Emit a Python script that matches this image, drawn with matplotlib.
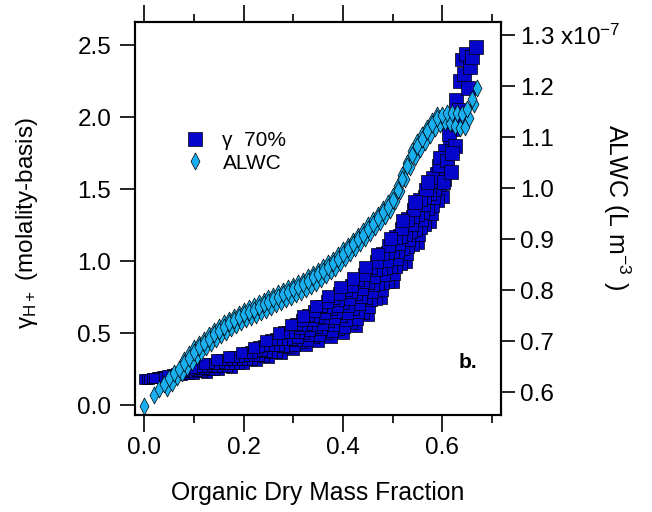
import numpy as np
import matplotlib
matplotlib.use("Agg")
import matplotlib.pyplot as plt
from matplotlib.lines import Line2D
from matplotlib.path import Path
from matplotlib.ticker import FixedLocator, FormatStrFormatter

plt.rcParams["font.family"] = ["Liberation Sans", "DejaVu Sans"]
plt.rcParams["mathtext.fontset"] = "custom"
plt.rcParams["mathtext.rm"] = "Liberation Sans"
plt.rcParams["mathtext.default"] = "regular"

# ── gamma_H+ (70% RH), left axis: tracks through the band + upper-right stack
gamma_t1_x = [0.000, 0.025, 0.050, 0.075, 0.100, 0.125, 0.150, 0.175, 0.200, 0.225, 0.250, 0.275, 0.300,
              0.325, 0.350, 0.375, 0.400, 0.425, 0.450, 0.475, 0.500, 0.525, 0.550, 0.575, 0.600]
gamma_t1_y = [0.18, 0.19, 0.20, 0.21, 0.22, 0.23, 0.245, 0.265, 0.29, 0.31, 0.33, 0.36, 0.39,
              0.42, 0.45, 0.475, 0.50, 0.55, 0.63, 0.75, 0.86, 1.00, 1.13, 1.28, 1.45]
gamma_t2_x = [0.005, 0.030, 0.055, 0.080, 0.105, 0.130, 0.155, 0.180, 0.205, 0.230, 0.255, 0.280, 0.305,
              0.330, 0.355, 0.380, 0.405, 0.430, 0.455, 0.480, 0.505, 0.530, 0.555, 0.580, 0.605]
gamma_t2_y = [0.18, 0.195, 0.21, 0.22, 0.24, 0.25, 0.27, 0.29, 0.32, 0.345, 0.37, 0.41, 0.45,
              0.49, 0.53, 0.56, 0.595, 0.65, 0.735, 0.85, 0.965, 1.10, 1.235, 1.39, 1.57]
gamma_t3_x = [0.010, 0.035, 0.060, 0.085, 0.110, 0.135, 0.160, 0.185, 0.210, 0.235, 0.260, 0.285, 0.310,
              0.335, 0.360, 0.385, 0.410, 0.435, 0.460, 0.485, 0.510, 0.535, 0.560, 0.585, 0.610]
gamma_t3_y = [0.185, 0.20, 0.215, 0.235, 0.255, 0.27, 0.29, 0.315, 0.345, 0.38, 0.415, 0.46, 0.505,
              0.555, 0.605, 0.65, 0.69, 0.755, 0.84, 0.955, 1.07, 1.205, 1.34, 1.50, 1.685]
gamma_t4_x = [0.015, 0.040, 0.065, 0.090, 0.115, 0.140, 0.165, 0.190, 0.215, 0.240, 0.265, 0.290, 0.315,
              0.340, 0.365, 0.390, 0.415, 0.440, 0.465, 0.490, 0.515, 0.540, 0.565, 0.590, 0.615]
gamma_t4_y = [0.19, 0.205, 0.22, 0.25, 0.27, 0.29, 0.32, 0.34, 0.37, 0.415, 0.46, 0.51, 0.56,
              0.62, 0.68, 0.73, 0.785, 0.86, 0.945, 1.06, 1.175, 1.31, 1.445, 1.61, 1.80]
gamma_t5_x = [0.020, 0.045, 0.070, 0.095, 0.120, 0.145, 0.170, 0.195, 0.220, 0.245, 0.270, 0.295, 0.320,
              0.345, 0.370, 0.395, 0.420, 0.445, 0.470, 0.495, 0.520, 0.545, 0.570, 0.595, 0.620]
gamma_t5_y = [0.19, 0.21, 0.23, 0.26, 0.29, 0.315, 0.34, 0.365, 0.40, 0.45, 0.50, 0.56, 0.62,
              0.69, 0.76, 0.82, 0.88, 0.96, 1.05, 1.16, 1.28, 1.41, 1.55, 1.72, 1.92]
gamma_t6_x = [0.015, 0.040, 0.065, 0.090, 0.115, 0.140, 0.165, 0.190, 0.215, 0.240, 0.265, 0.290,
              0.315, 0.340, 0.365, 0.390, 0.415, 0.440, 0.465, 0.490, 0.515, 0.540, 0.565, 0.590]
gamma_t6_y = [0.187, 0.198, 0.21, 0.222, 0.235, 0.249, 0.267, 0.291, 0.316, 0.339, 0.368, 0.402,
              0.436, 0.471, 0.503, 0.533, 0.574, 0.642, 0.742, 0.857, 0.982, 1.117, 1.259, 1.422]
gamma_t7_x = [0.020, 0.045, 0.070, 0.095, 0.120, 0.145, 0.170, 0.195, 0.220, 0.245, 0.270, 0.295,
              0.320, 0.345, 0.370, 0.395, 0.420, 0.445, 0.470, 0.495, 0.520, 0.545, 0.570, 0.595]
gamma_t7_y = [0.191, 0.204, 0.22, 0.237, 0.254, 0.271, 0.292, 0.317, 0.347, 0.378, 0.414, 0.456,
              0.499, 0.544, 0.585, 0.623, 0.673, 0.746, 0.846, 0.961, 1.086, 1.221, 1.366, 1.536]
gamma_t8_x = [0.025, 0.050, 0.075, 0.100, 0.125, 0.150, 0.175, 0.200, 0.225, 0.250, 0.275, 0.300,
              0.325, 0.350, 0.375, 0.400, 0.425, 0.450, 0.475, 0.500, 0.525, 0.550, 0.575, 0.600]
gamma_t8_y = [0.194, 0.211, 0.23, 0.252, 0.273, 0.294, 0.316, 0.343, 0.378, 0.417, 0.461, 0.509,
              0.561, 0.616, 0.667, 0.714, 0.772, 0.849, 0.949, 1.064, 1.189, 1.324, 1.474, 1.649]
gamma_t9_x = [0.030, 0.055, 0.080, 0.105, 0.130, 0.155, 0.180, 0.205, 0.230, 0.255, 0.280, 0.305,
              0.330, 0.355, 0.380, 0.405, 0.430, 0.455, 0.480, 0.505, 0.530, 0.555, 0.580, 0.605]
gamma_t9_y = [0.198, 0.217, 0.24, 0.267, 0.293, 0.316, 0.340, 0.369, 0.409, 0.456, 0.507, 0.563,
              0.624, 0.689, 0.749, 0.805, 0.871, 0.953, 1.053, 1.168, 1.293, 1.428, 1.581, 1.763]
# extra tracks in the steep part, where the band is widest
gamma_t10_x = [0.3025, 0.3275, 0.3525, 0.3775, 0.4025, 0.4275, 0.4525, 0.4775, 0.5025, 0.5275, 0.5525, 0.5775]
gamma_t10_y = [0.419, 0.454, 0.489, 0.518, 0.548, 0.601, 0.683, 0.801, 0.913, 1.051, 1.183, 1.335]
gamma_t11_x = [0.3075, 0.3325, 0.3575, 0.3825, 0.4075, 0.4325, 0.4575, 0.4825, 0.5075, 0.5325, 0.5575, 0.5825]
gamma_t11_y = [0.476, 0.521, 0.566, 0.604, 0.643, 0.704, 0.788, 0.904, 1.018, 1.154, 1.288, 1.445]
gamma_t12_x = [0.3125, 0.3375, 0.3625, 0.3875, 0.4125, 0.4375, 0.4625, 0.4875, 0.5125, 0.5375, 0.5625, 0.5875]
gamma_t12_y = [0.534, 0.589, 0.644, 0.691, 0.738, 0.806, 0.893, 1.006, 1.123, 1.256, 1.393, 1.555]
gamma_t13_x = [0.3175, 0.3425, 0.3675, 0.3925, 0.4175, 0.4425, 0.4675, 0.4925, 0.5175, 0.5425, 0.5675, 0.5925]
gamma_t13_y = [0.591, 0.656, 0.721, 0.777, 0.833, 0.909, 0.998, 1.109, 1.228, 1.359, 1.498, 1.665]
gamma_top_x = [0.603, 0.610, 0.614, 0.618, 0.622, 0.626, 0.628, 0.632, 0.636, 0.640, 0.644, 0.648,
               0.652, 0.656, 0.660, 0.668, 0.620, 0.634]
gamma_top_y = [1.55, 1.70, 1.88, 1.62, 2.00, 1.80, 2.12, 1.95, 2.25, 2.40, 2.30, 2.44,
               2.20, 2.35, 2.42, 2.49, 1.75, 2.05]

# ── ALWC (x1e-7 L m^-3), right axis: three close tracks
alwc_a_x = [0.00, 0.02, 0.03, 0.04, 0.05, 0.06, 0.07, 0.08, 0.09, 0.10, 0.11, 0.12, 0.13, 0.14,
            0.15, 0.16, 0.17, 0.18, 0.19, 0.20, 0.21, 0.22, 0.23, 0.24, 0.25, 0.26, 0.27, 0.28,
            0.29, 0.30, 0.31, 0.32, 0.33, 0.34, 0.35, 0.36, 0.37, 0.38, 0.39, 0.40, 0.41, 0.42,
            0.43, 0.44, 0.45, 0.46, 0.47, 0.48, 0.49, 0.50, 0.51, 0.52, 0.53, 0.54, 0.55, 0.56,
            0.57, 0.58, 0.59, 0.60, 0.61, 0.62, 0.63, 0.64, 0.65, 0.66, 0.67]
alwc_a_y = [0.574, 0.595, 0.606, 0.617, 0.627, 0.637, 0.646, 0.657, 0.668, 0.679, 0.688, 0.696, 0.705, 0.714,
            0.721, 0.728, 0.735, 0.741, 0.747, 0.753, 0.758, 0.762, 0.767, 0.772, 0.777, 0.782, 0.787, 0.792,
            0.797, 0.802, 0.807, 0.812, 0.818, 0.825, 0.831, 0.838, 0.846, 0.853, 0.861, 0.871, 0.880, 0.890,
            0.900, 0.909, 0.920, 0.930, 0.941, 0.953, 0.963, 0.977, 0.997, 1.018, 1.043, 1.065, 1.083, 1.097,
            1.111, 1.125, 1.137, 1.144, 1.147, 1.148, 1.147, 1.145, 1.155, 1.175, 1.196]
alwc_b_x = [0.045, 0.055, 0.065, 0.075, 0.085, 0.095, 0.105, 0.115, 0.125, 0.135, 0.145, 0.155, 0.165,
            0.175, 0.185, 0.195, 0.205, 0.215, 0.225, 0.235, 0.245, 0.255, 0.265, 0.275, 0.285, 0.295,
            0.305, 0.315, 0.325, 0.335, 0.345, 0.355, 0.365, 0.375, 0.385, 0.395, 0.405, 0.415, 0.425,
            0.435, 0.445, 0.455, 0.465, 0.475, 0.485, 0.495, 0.505, 0.515, 0.525, 0.535, 0.545, 0.555,
            0.565, 0.575, 0.585, 0.595, 0.605, 0.615, 0.625, 0.635, 0.645, 0.655, 0.665]
alwc_b_y = [0.609, 0.619, 0.629, 0.638, 0.650, 0.660, 0.671, 0.679, 0.688, 0.697, 0.705, 0.712, 0.719,
            0.725, 0.731, 0.737, 0.743, 0.747, 0.752, 0.757, 0.762, 0.767, 0.772, 0.777, 0.782, 0.787,
            0.792, 0.797, 0.802, 0.809, 0.815, 0.822, 0.829, 0.837, 0.844, 0.853, 0.863, 0.872, 0.882,
            0.892, 0.902, 0.912, 0.923, 0.934, 0.946, 0.957, 0.974, 0.995, 1.018, 1.041, 1.061, 1.077,
            1.091, 1.105, 1.118, 1.126, 1.130, 1.128, 1.122, 1.118, 1.120, 1.138, 1.165]
alwc_c_x = [0.08, 0.09, 0.10, 0.11, 0.12, 0.13, 0.14, 0.15, 0.16, 0.17, 0.18, 0.19, 0.20, 0.21,
            0.22, 0.23, 0.24, 0.25, 0.26, 0.27, 0.28, 0.29, 0.30, 0.31, 0.32, 0.33, 0.34, 0.35,
            0.36, 0.37, 0.38, 0.39, 0.40, 0.41, 0.42, 0.43, 0.44, 0.45, 0.46, 0.47, 0.48, 0.49,
            0.50, 0.51, 0.52, 0.53, 0.54, 0.55, 0.56, 0.57, 0.58, 0.59]
alwc_c_y = [0.664, 0.675, 0.686, 0.695, 0.703, 0.712, 0.721, 0.728, 0.735, 0.742, 0.748, 0.754, 0.760, 0.765,
            0.769, 0.774, 0.779, 0.784, 0.789, 0.794, 0.799, 0.804, 0.809, 0.814, 0.819, 0.825, 0.832, 0.838,
            0.845, 0.853, 0.860, 0.868, 0.878, 0.887, 0.897, 0.907, 0.916, 0.927, 0.937, 0.948, 0.960, 0.970,
            0.984, 1.004, 1.025, 1.050, 1.072, 1.090, 1.104, 1.118, 1.132, 1.144]

left_ticks = [0.0, 0.5, 1.0, 1.5, 2.0, 2.5]
right_ticks = [0.6, 0.7, 0.8, 0.9, 1.0, 1.1, 1.2, 1.3]
x_major = [0.0, 0.2, 0.4, 0.6]
x_minor = [0.1, 0.3, 0.5, 0.7]

SQ_COLOR = "#0505cc"
DM_COLOR = "#1ab0f0"
diamond = Path([(0, 1), (0.53, 0), (0, -1), (-0.53, 0), (0, 1)],
               [Path.MOVETO, Path.LINETO, Path.LINETO, Path.LINETO, Path.CLOSEPOLY])

fig = plt.figure(figsize=(6.52, 5.12), dpi=100)
ax = fig.add_axes([0.207, 0.189, 0.561, 0.768])
ax2 = ax.twinx()
ax.set_zorder(1)
ax2.set_zorder(2)
ax2.patch.set_visible(False)

tracks = [(gamma_t1_x, gamma_t1_y), (gamma_t6_x, gamma_t6_y), (gamma_t10_x, gamma_t10_y),
          (gamma_t2_x, gamma_t2_y), (gamma_t7_x, gamma_t7_y), (gamma_t11_x, gamma_t11_y),
          (gamma_t3_x, gamma_t3_y), (gamma_t8_x, gamma_t8_y), (gamma_t12_x, gamma_t12_y),
          (gamma_t4_x, gamma_t4_y), (gamma_t9_x, gamma_t9_y), (gamma_t13_x, gamma_t13_y),
          (gamma_t5_x, gamma_t5_y), (gamma_top_x, gamma_top_y)]
for tx, ty in tracks:
    tx = np.asarray(tx)
    size_pt = (10.0 + 6.0 * tx) * 0.72   # squares grow a little toward the right
    ax.scatter(tx, ty, s=size_pt ** 2, marker="s", facecolor=SQ_COLOR,
               edgecolor="black", linewidth=0.5)

for dx, dy in [(alwc_c_x, alwc_c_y), (alwc_b_x, alwc_b_y), (alwc_a_x, alwc_a_y)]:
    ax2.plot(dx, dy, ls="none", marker=diamond, markersize=12.2,
             markerfacecolor=DM_COLOR, markeredgecolor="black", markeredgewidth=0.5)

ax.set_xlim(-0.019, 0.718)
ax.set_ylim(-0.069, 2.66)
ax2.set_ylim(0.555, 1.3255)

ax.xaxis.set_major_locator(FixedLocator(x_major))
ax.xaxis.set_minor_locator(FixedLocator(x_minor))
ax.xaxis.set_major_formatter(FormatStrFormatter("%.1f"))
ax.yaxis.set_major_locator(FixedLocator(left_ticks))
ax.yaxis.set_major_formatter(FormatStrFormatter("%.1f"))
ax2.yaxis.set_major_locator(FixedLocator(right_ticks))
ax2.set_yticklabels(["%.1f" % v for v in right_ticks[:-1]] + [r"1.3 x10$^{-7}$"])

for a in (ax, ax2):
    for sp in a.spines.values():
        sp.set_linewidth(1.5)

ax.tick_params(axis="x", which="major", direction="out", top=True, bottom=True,
               length=12, width=1.2, labelsize=17.5, pad=4)
ax.tick_params(axis="x", which="minor", direction="out", top=True, bottom=True,
               length=6, width=1.2)
ax.tick_params(axis="y", which="major", direction="out", length=11, width=1.2,
               labelsize=17.5, pad=6)
ax2.tick_params(axis="y", which="major", direction="out", length=10, width=1.2,
                labelsize=17.5, pad=4)

ax.set_xlabel("Organic Dry Mass Fraction", fontsize=17.8)
ax.xaxis.set_label_coords(0.5, -0.168)
ax.set_ylabel(r"γ$_{H+}$ (molality-basis)", fontsize=17.5)
ax.yaxis.set_label_coords(-0.26, 0.49)
ax2.set_ylabel(r"ALWC (L m$^{-3}$ )", fontsize=18, rotation=-90, va="center")
ax2.yaxis.set_label_coords(1.317, 0.53)

ax.text(0.91, 0.135, "b.", transform=ax.transAxes, fontsize=15, fontweight="bold",
        ha="center", va="center")

handles = [
    Line2D([], [], ls="none", marker="s", markersize=9.4, markerfacecolor=SQ_COLOR,
           markeredgecolor="black", markeredgewidth=0.5),
    Line2D([], [], ls="none", marker=diamond, markersize=12.2, markerfacecolor=DM_COLOR,
           markeredgecolor="black", markeredgewidth=0.5),
]
ax2.legend(handles, ["γ  70%", "ALWC"], loc="upper left", bbox_to_anchor=(0.114, 0.743),
           borderaxespad=0, frameon=False, fontsize=15, handlelength=1.0,
           handletextpad=0.8, labelspacing=0.15)

fig.savefig("out.png", dpi=100)
